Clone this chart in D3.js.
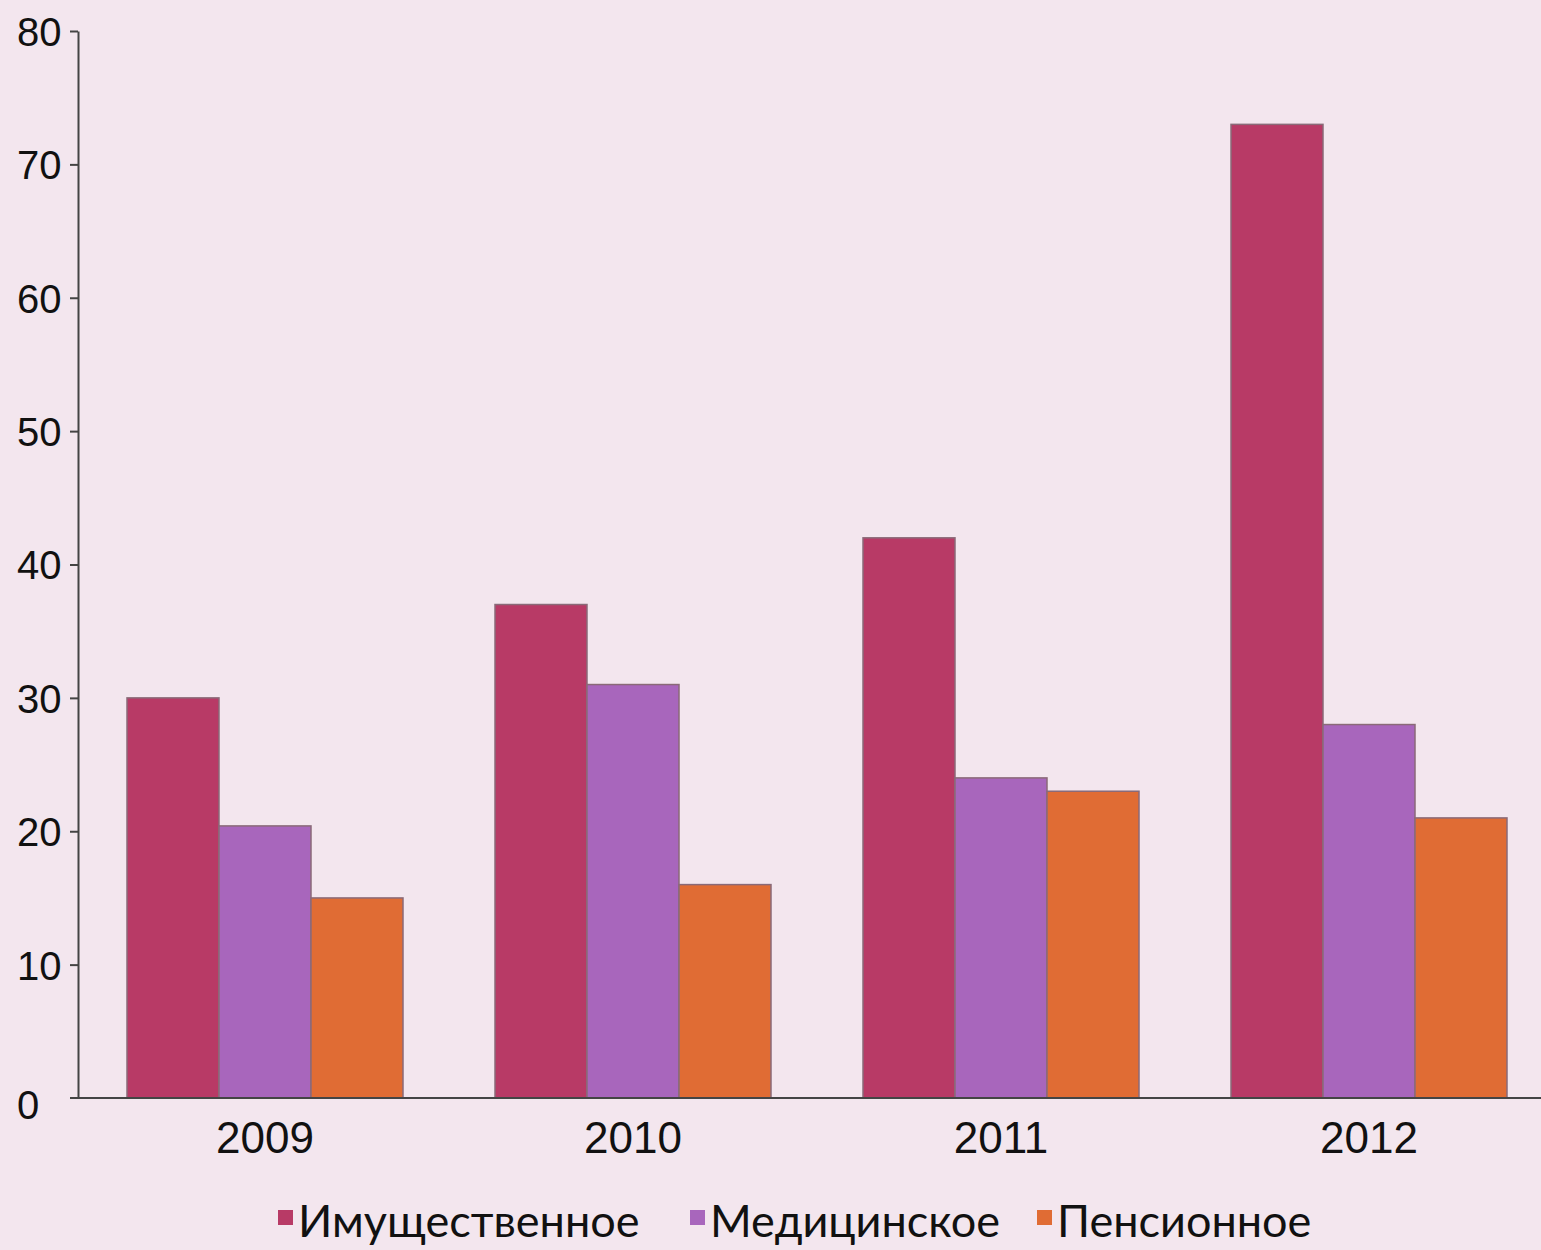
<!DOCTYPE html>
<html lang="ru">
  <head>
    <meta charset="utf-8">
    <title>Страхование</title>
    <script src="https://cdnjs.cloudflare.com/ajax/libs/d3/7.8.5/d3.min.js"></script>
    <style>
      body { margin: 0; background: #F3E6EE; }
      svg { display: block; font-family: Lato, "Open Sans", sans-serif; }
      .axis path, .axis line { stroke: #444; stroke-width: 2; }
      .axis text { fill: #111; }
    </style>
  </head>
  <body>
    <div id="chartDiv"></div>
    <script>
      // data
      var years = ["2009", "2010", "2011", "2012"];
      var seriesNames = ["Имущественное", "Медицинское", "Пенсионное"];
      var imushch = [30, 37, 42, 73];
      var medic = [20.4, 31, 24, 28];
      var pension = [15, 16, 23, 21];
      var yTicks = [0, 10, 20, 30, 40, 50, 60, 70, 80];
      var colors = ["#B83A66", "#A866BC", "#E06C34"];

      var seriesVals = [imushch, medic, pension];

      var chartWd = 1541, chartHt = 1250;
      var plotLeft = 78, plotTop = 31, plotBottom = 1098, plotRight = 1553;

      var svg = d3.select("#chartDiv")
        .append("svg")
        .attr("width", chartWd)
        .attr("height", chartHt);

      svg.append("rect")
        .attr("width", chartWd)
        .attr("height", chartHt)
        .attr("fill", "#F3E6EE");

      var xScale = d3.scaleBand()
        .domain(years)
        .range([plotLeft + 3, plotRight])
        .paddingInner(0.25)
        .paddingOuter(0.125);

      var xInner = d3.scaleBand()
        .domain(seriesNames)
        .range([0, xScale.bandwidth()]);

      var yScale = d3.scaleLinear()
        .domain([0, 80])
        .range([plotBottom, plotTop]);

      var groups = svg.selectAll("g.year")
        .data(years)
        .enter()
        .append("g")
        .attr("class", "year")
        .attr("transform", function(d) { return "translate(" + xScale(d) + ",0)"; });

      groups.selectAll("rect")
        .data(function(d, i) {
          return seriesNames.map(function(s, j) {
            return {name: s, value: seriesVals[j][i], color: colors[j]};
          });
        })
        .enter()
        .append("rect")
        .attr("x", function(d) { return xInner(d.name); })
        .attr("y", function(d) { return yScale(d.value); })
        .attr("width", xInner.bandwidth())
        .attr("height", function(d) { return plotBottom - yScale(d.value); })
        .attr("fill", function(d) { return d.color; })
        .attr("stroke", "#8a6a78")
        .attr("stroke-width", 1.5);

      // y axis
      var yAxis = d3.axisLeft(yScale)
        .tickValues(yTicks)
        .tickSize(8)
        .tickSizeOuter(0)
        .tickFormat(d3.format("d"));

      var gy = svg.append("g")
        .attr("class", "axis")
        .attr("transform", "translate(" + plotLeft + ",0)")
        .call(yAxis);
      gy.selectAll("text")
        .attr("font-size", "40px")
        .attr("text-anchor", "start")
        .attr("x", 17 - plotLeft)
        .attr("dy", "0.36em");
      gy.selectAll(".tick")
        .filter(function(d) { return d === 0; })
        .select("line").remove();
      gy.selectAll(".tick")
        .filter(function(d) { return d === 0; })
        .select("text").attr("dy", "0.5em");

      // x axis
      var xAxis = d3.axisBottom(xScale)
        .tickSize(0)
        .tickSizeOuter(0);

      var gx = svg.append("g")
        .attr("class", "axis")
        .attr("transform", "translate(0," + plotBottom + ")")
        .call(xAxis);
      gx.select(".domain").attr("d", "M" + (plotLeft - 8) + ",0H" + plotRight);
      gx.selectAll("text")
        .attr("font-size", "44px")
        .attr("y", 24);

      // legend
      var legendX = [278, 690, 1037];
      var legend = svg.selectAll("g.legend")
        .data(seriesNames)
        .enter()
        .append("g")
        .attr("class", "legend")
        .attr("transform", function(d, i) { return "translate(" + legendX[i] + ",1222)"; });

      legend.append("rect")
        .attr("x", 0)
        .attr("y", -12)
        .attr("width", 15)
        .attr("height", 15)
        .attr("fill", function(d, i) { return colors[i]; });

      legend.append("text")
        .attr("x", 20)
        .attr("y", 0)
        .attr("dy", "0.34em")
        .attr("font-size", "45px")
        .attr("fill", "#111")
        .text(function(d) { return d; });
    </script>
  </body>
</html>
